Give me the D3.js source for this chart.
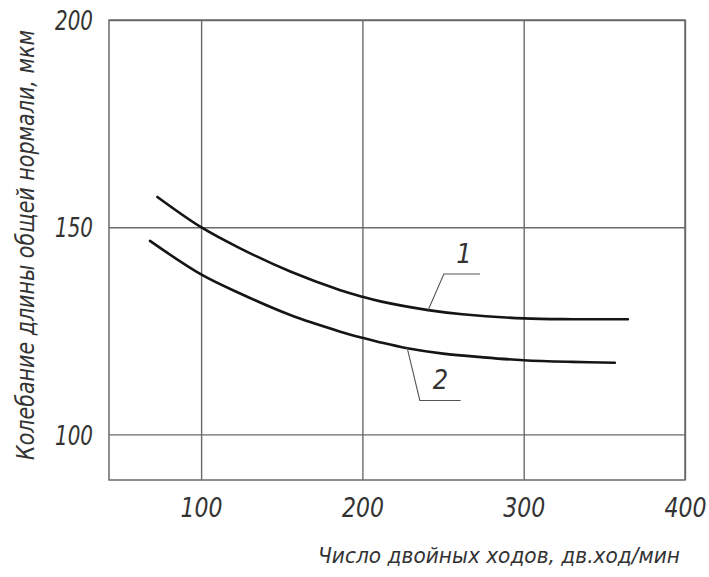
<!DOCTYPE HTML>
<html>
  <head>
    <meta charset="utf-8">
    <style>
      body { margin: 0px; padding: 0px; background: #fff; }
      .lbl { font-family: 'Liberation Sans Narrow', 'DejaVu Sans Condensed', sans-serif; font-style: italic; fill: #333; }
    </style>
    <script src="https://cdn.jsdelivr.net/npm/d3@7"></script>
  </head>
  <body>
    <script>
    // ticks
    var xTicks = [100, 200, 300, 400];
    var yTicks = [100, 150, 200];

    // curve 1 (upper)
    var c1x = [72.9, 100, 124.2, 155.3, 186.3, 200.2, 211.2, 240.8, 262, 300, 330, 364.6];
    var c1y = [157.3, 150, 144.9, 139.3, 134.8, 133.2, 132.1, 130.0, 129.0, 128.0, 127.8, 127.8];
    // curve 2 (lower)
    var c2x = [68.3, 100, 124.2, 155.3, 186.3, 200, 211.2, 227.8, 250, 275, 300, 330, 356.5];
    var c2y = [146.7, 138.6, 134.0, 128.8, 124.8, 123.3, 122.2, 120.8, 119.5, 118.6, 117.9, 117.5, 117.3];

    // leader lines and numbers
    var leaderNames = ["1", "2"];
    var leaderX = [[240.8, 250.5, 272.9], [227.8, 235.6, 260.9]];
    var leaderY = [[130.0, 138.7, 138.7], [120.8, 108.2, 108.2]];
    var numX = [263, 248.4];
    var numY = [143.7, 113.3];

    function draw() {
      var W = 709, H = 577;
      var pL = 109, pT = 20, pR = 685, pB = 480;

      var svg = d3.select("body").append("svg")
                  .attr("width", W)
                  .attr("height", H);

      var x = d3.scaleLinear().domain([42.9, 400]).range([pL, pR]);
      var y = d3.scaleLinear().domain([89, 200]).range([pB, pT]);

      // grid via axes
      var gx = svg.append("g")
                  .attr("transform", "translate(0," + pB + ")")
                  .call(d3.axisBottom(x).tickValues(xTicks).tickSize(-(pB - pT)).tickPadding(18));
      var gy = svg.append("g")
                  .attr("transform", "translate(" + pL + ",0)")
                  .call(d3.axisLeft(y).tickValues(yTicks).tickSize(-(pR - pL)).tickPadding(16));
      svg.selectAll(".domain").remove();
      svg.selectAll(".tick line").attr("stroke", "#6a6a6a").attr("stroke-width", 1.4);
      svg.selectAll(".tick text")
         .attr("class", "lbl")
         .attr("fill", null)
         .attr("lengthAdjust", "spacingAndGlyphs")
         .style("font-size", "27px");
      gx.selectAll(".tick text").attr("textLength", 42);
      gy.selectAll(".tick text").attr("dy", "0.36em").attr("textLength", 38);

      // frame
      svg.append("rect")
         .attr("x", pL).attr("y", pT)
         .attr("width", pR - pL).attr("height", pB - pT)
         .attr("fill", "none")
         .attr("stroke", "#6a6a6a")
         .attr("stroke-width", 1.5);

      var line = d3.line()
                   .x(function (d) { return x(d[0]); })
                   .y(function (d) { return y(d[1]); })
                   .curve(d3.curveCatmullRom.alpha(0.5));

      [[c1x, c1y], [c2x, c2y]].forEach(function (c) {
        svg.append("path")
           .datum(d3.zip(c[0], c[1]))
           .attr("d", line)
           .attr("fill", "none")
           .attr("stroke", "#151515")
           .attr("stroke-width", 2.6)
           .attr("stroke-linecap", "round");
      });

      var lead = d3.line()
                   .x(function (d) { return x(d[0]); })
                   .y(function (d) { return y(d[1]); });
      leaderNames.forEach(function (n, i) {
        svg.append("path")
           .datum(d3.zip(leaderX[i], leaderY[i]))
           .attr("d", lead)
           .attr("fill", "none")
           .attr("stroke", "#555")
           .attr("stroke-width", 1.1);
        svg.append("text")
           .attr("class", "lbl")
           .attr("x", x(numX[i]))
           .attr("y", y(numY[i]))
           .attr("dy", "0.36em")
           .attr("text-anchor", "middle")
           .style("font-size", "27px")
           .text(n);
      });

      // axis titles
      svg.append("text")
         .attr("class", "lbl")
         .attr("x", 318).attr("y", 563)
         .attr("textLength", 362)
         .attr("lengthAdjust", "spacingAndGlyphs")
         .style("font-size", "22px")
         .text("Число двойных ходов, дв.ход/мин");

      svg.append("text")
         .attr("class", "lbl")
         .attr("transform", "translate(34,460) rotate(-90)")
         .attr("textLength", 430)
         .attr("lengthAdjust", "spacingAndGlyphs")
         .style("font-size", "24px")
         .text("Колебание длины общей нормали, мкм");
    }

    window.onload = function() {
      draw();
    };
    </script>
  </body>
</html>
